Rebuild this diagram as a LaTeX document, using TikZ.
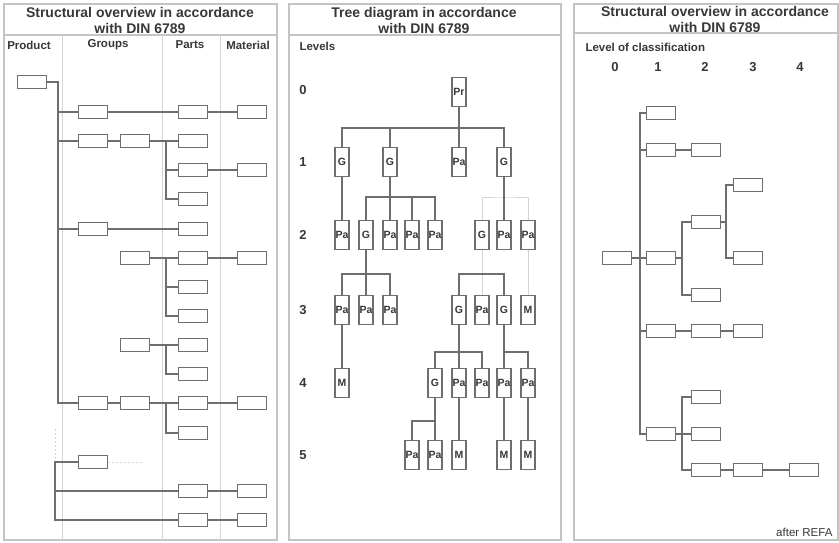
\documentclass[tikz,border=0pt]{standalone}
\usepackage{fontspec}
\setmainfont{Liberation Sans}
\usepackage{xcolor}
\usepackage{tikz}

\definecolor{linegray}{HTML}{6E6E6E}
\definecolor{framegray}{HTML}{C4C4C4}
\definecolor{palegray}{HTML}{D4D4D4}
\definecolor{textgray}{HTML}{383838}

\begin{document}
\begin{tikzpicture}[
  x=1pt, y=-1pt,
  hbox/.style={rectangle, draw=linegray, line width=1.4pt, fill=white,
               minimum width=29pt, minimum height=13pt, inner sep=0pt},
  vbox/.style={rectangle, draw=linegray, line width=1.4pt, fill=white,
               minimum width=14pt, minimum height=29pt, inner sep=0pt,
               font=\fontsize{10.5}{11}\selectfont\bfseries, text=textgray},
  link/.style={draw=linegray, line width=1.4pt},
  faint/.style={draw=palegray, line width=1pt},
  panel/.style={draw=framegray, line width=1.2pt},
  colline/.style={draw=palegray, line width=1pt},
  title/.style={font=\fontsize{14}{15.5}\selectfont\bfseries, text=textgray, align=center},
  head/.style={font=\fontsize{11.5}{12}\selectfont\bfseries, text=textgray},
  level/.style={font=\fontsize{13}{13}\selectfont\bfseries, text=textgray}
]
  \fill[white] (0,0) rectangle (839,543);
  \useasboundingbox (0,0) rectangle (839,543);

  % panels
  \draw[panel] (4,4) rectangle (277,540);
  \draw[panel] (289,4) rectangle (561,540);
  \draw[panel] (574,4) rectangle (838,540);
  \draw[panel] (4,35) -- (277,35);
  \draw[panel] (289,35) -- (561,35);
  \draw[panel] (574,33) -- (838,33);
  \draw[colline] (62,35) -- (62,540);
  \draw[colline] (162,35) -- (162,540);
  \draw[colline] (220,35) -- (220,540);

  \node[title] (ttlA) at (140,20.5) {Structural overview in accordance\\with DIN 6789};
  \node[title] (ttlB) at (424,20.5) {Tree diagram in accordance\\with DIN 6789};
  \node[title] (ttlC) at (715,19.5) {Structural overview in accordance\\with DIN 6789};

  \node[head] (hProd) at (29,45) {Product};
  \node[head] (hGrp) at (108,45) {Groups};
  \node[head] (hPart) at (190,45) {Parts};
  \node[head] (hMat) at (248,45) {Material};
  \node[head, anchor=west] (hLev) at (296,46) {Levels};
  \node[head, anchor=west] (hCls) at (582,47) {Level of classification};

  % structural overview (left)
  \node[hbox] (prod) at (32,82) {};
  \node[hbox] (a1) at (93,112) {};  \node[hbox] (pt1) at (193,112) {};  \node[hbox] (mt1) at (252,112) {};
  \node[hbox] (a2) at (93,141) {};  \node[hbox] (b2) at (135,141) {};   \node[hbox] (pt2) at (193,141) {};
  \node[hbox] (pt3) at (193,170) {}; \node[hbox] (mt3) at (252,170) {};
  \node[hbox] (pt4) at (193,199) {};
  \node[hbox] (a5) at (93,229) {};  \node[hbox] (pt5) at (193,229) {};
  \node[hbox] (b6) at (135,258) {}; \node[hbox] (pt6) at (193,258) {};  \node[hbox] (mt6) at (252,258) {};
  \node[hbox] (pt7) at (193,287) {};
  \node[hbox] (pt8) at (193,316) {};
  \node[hbox] (b9) at (135,345) {}; \node[hbox] (pt9) at (193,345) {};
  \node[hbox] (pt10) at (193,374) {};
  \node[hbox] (a11) at (93,403) {}; \node[hbox] (b11) at (135,403) {}; \node[hbox] (pt11) at (193,403) {}; \node[hbox] (mt11) at (252,403) {};
  \node[hbox] (pt12) at (193,433) {};
  \node[hbox] (a13) at (93,462) {};
  \node[hbox] (pt14) at (193,491) {}; \node[hbox] (mt14) at (252,491) {};
  \node[hbox] (pt15) at (193,520) {}; \node[hbox] (mt15) at (252,520) {};

  \coordinate (t1) at (58,82);
  \coordinate (t2) at (55,429);
  \coordinate (u) at (166,0);
  \coordinate (stub) at (143,462);

  \draw[link] (prod.east) -| (t1 |- a11) -- (a11.west);
  \draw[link] (a1.west) -- (a1.west -| t1);
  \draw[link] (a2.west) -- (a2.west -| t1);
  \draw[link] (a5.west) -- (a5.west -| t1);
  \draw[link] (a1) -- (pt1) -- (mt1);
  \draw[link] (a2) -- (b2) -- (pt2);
  \draw[link] (pt2.west -| u) |- (pt4.west);
  \draw[link] (pt3.west) -- (pt3.west -| u);
  \draw[link] (pt3) -- (mt3);
  \draw[link] (a5) -- (pt5);
  \draw[link] (b6) -- (pt6) -- (mt6);
  \draw[link] (pt6.west -| u) |- (pt8.west);
  \draw[link] (pt7.west) -- (pt7.west -| u);
  \draw[link] (b9) -- (pt9);
  \draw[link] (pt9.west -| u) |- (pt10.west);
  \draw[link] (a11) -- (b11) -- (pt11) -- (mt11);
  \draw[link] (pt11.west -| u) |- (pt12.west);
  \draw[faint, dash pattern=on 2pt off 2pt] (t2) -- (t2 |- a13);
  \draw[faint, dash pattern=on 2pt off 2pt] (a13) -- (stub);
  \draw[link] (a13.west) -| (t2 |- pt15) -- (pt15.west);
  \draw[link] (pt14.west) -- (pt14.west -| t2);
  \draw[link] (pt14) -- (mt14);
  \draw[link] (pt15) -- (mt15);

  % tree diagram (middle)
  \node[level] (lv0) at (303,90) {0};
  \node[level] (lv1) at (303,162) {1};
  \node[level] (lv2) at (303,235) {2};
  \node[level] (lv3) at (303,310) {3};
  \node[level] (lv4) at (303,383) {4};
  \node[level] (lv5) at (303,455) {5};

  \node[vbox] (n0) at (459,92) {Pr};
  \node[vbox] (n1a) at (342,162) {G};
  \node[vbox] (n1b) at (390,162) {G};
  \node[vbox] (n1c) at (459,162) {Pa};
  \node[vbox] (n1d) at (504,162) {G};
  \node[vbox] (n2a) at (342,235) {Pa};
  \node[vbox] (n2b) at (366,235) {G};
  \node[vbox] (n2c) at (390,235) {Pa};
  \node[vbox] (n2d) at (412,235) {Pa};
  \node[vbox] (n2e) at (435,235) {Pa};
  \node[vbox] (n2f) at (482,235) {G};
  \node[vbox] (n2g) at (504,235) {Pa};
  \node[vbox] (n2h) at (528,235) {Pa};
  \node[vbox] (n3a) at (342,310) {Pa};
  \node[vbox] (n3b) at (366,310) {Pa};
  \node[vbox] (n3c) at (390,310) {Pa};
  \node[vbox] (n3d) at (459,310) {G};
  \node[vbox] (n3e) at (482,310) {Pa};
  \node[vbox] (n3f) at (504,310) {G};
  \node[vbox] (n3g) at (528,310) {M};
  \node[vbox] (n4a) at (342,383) {M};
  \node[vbox] (n4b) at (435,383) {G};
  \node[vbox] (n4c) at (459,383) {Pa};
  \node[vbox] (n4d) at (482,383) {Pa};
  \node[vbox] (n4e) at (504,383) {Pa};
  \node[vbox] (n4f) at (528,383) {Pa};
  \node[vbox] (n5a) at (412,455) {Pa};
  \node[vbox] (n5b) at (435,455) {Pa};
  \node[vbox] (n5c) at (459,455) {M};
  \node[vbox] (n5d) at (504,455) {M};
  \node[vbox] (n5e) at (528,455) {M};

  \coordinate (j0) at (459,128);
  \coordinate (j1) at (390,197);
  \coordinate (j2) at (504,197);
  \coordinate (j3) at (366,274);
  \coordinate (j4) at (482,274);
  \coordinate (j5) at (459,352);
  \coordinate (j6) at (504,352);
  \coordinate (j7) at (435,421);

  \draw[faint] (n2f.north) |- (j2) -| (n2h.north);
  \draw[faint] (n2f) -- (n3e);
  \draw[faint] (n2h) -- (n3g);

  \draw[link] (n1a.north) |- (j0) -| (n1d.north);
  \draw[link] (n0) -- (n1c);
  \draw[link] (n1b.north) -- (n1b.north |- j0);
  \draw[link] (n1a) -- (n2a);
  \draw[link] (n2b.north) |- (j1) -| (n2e.north);
  \draw[link] (n1b) -- (n2c);
  \draw[link] (n2d.north) -- (n2d.north |- j1);
  \draw[link] (n1d) -- (n2g);
  \draw[link] (n3a.north) |- (j3) -| (n3c.north);
  \draw[link] (n2b) -- (n3b);
  \draw[link] (n3d.north) |- (j4) -| (n3f.north);
  \draw[link] (n3a) -- (n4a);
  \draw[link] (n4b.north) |- (j5) -| (n4d.north);
  \draw[link] (n3d) -- (n4c);
  \draw[link] (n3f) -- (n4e);
  \draw[link] (j6) -| (n4f.north);
  \draw[link] (n4b) -- (n5b);
  \draw[link] (n5a.north) |- (j7);
  \draw[link] (n4c) -- (n5c);
  \draw[link] (n4e) -- (n5d);
  \draw[link] (n4f) -- (n5e);

  % structural overview (right)
  \node[level] (c0) at (615,67) {0};
  \node[level] (c1) at (658,67) {1};
  \node[level] (c2) at (705,67) {2};
  \node[level] (c3) at (753,67) {3};
  \node[level] (c4) at (800,67) {4};

  \node[hbox] (q0) at (617,258) {};
  \node[hbox] (q1a) at (661,113) {};
  \node[hbox] (q1b) at (661,150) {};
  \node[hbox] (q1c) at (661,258) {};
  \node[hbox] (q1d) at (661,331) {};
  \node[hbox] (q1e) at (661,434) {};
  \node[hbox] (q2a) at (706,150) {};
  \node[hbox] (q2b) at (706,222) {};
  \node[hbox] (q2c) at (706,295) {};
  \node[hbox] (q2d) at (706,331) {};
  \node[hbox] (q2e) at (706,397) {};
  \node[hbox] (q2f) at (706,434) {};
  \node[hbox] (q2g) at (706,470) {};
  \node[hbox] (q3a) at (748,185) {};
  \node[hbox] (q3b) at (748,258) {};
  \node[hbox] (q3c) at (748,331) {};
  \node[hbox] (q3d) at (748,470) {};
  \node[hbox] (q4a) at (804,470) {};

  \coordinate (tr) at (640,113);
  \coordinate (s1) at (682,0);
  \coordinate (s2) at (726,0);

  \draw[link] (q1a.west) -| (tr |- q1e) -- (q1e.west);
  \draw[link] (q1b.west) -- (q1b.west -| tr);
  \draw[link] (q1d.west) -- (q1d.west -| tr);
  \draw[link] (q0) -- (q1c);
  \draw[link] (q1b) -- (q2a);
  \draw[link] (q1c) -- (q1c.east -| s1);
  \draw[link] (q2b.west) -| (s1 |- q2c) -- (q2c.west);
  \draw[link] (q2b) -- (q2b.east -| s2);
  \draw[link] (q3a.west) -| (s2 |- q3b) -- (q3b.west);
  \draw[link] (q1d) -- (q2d) -- (q3c);
  \draw[link] (q1e) -- (q2f);
  \draw[link] (q2e.west) -| (s1 |- q2g) -- (q2g.west);
  \draw[link] (q2g) -- (q3d) -- (q4a);

  \node[font=\fontsize{11.5}{12}\selectfont, text=textgray, anchor=east] (refa) at (836,532) {after REFA};
\end{tikzpicture}
\end{document}
